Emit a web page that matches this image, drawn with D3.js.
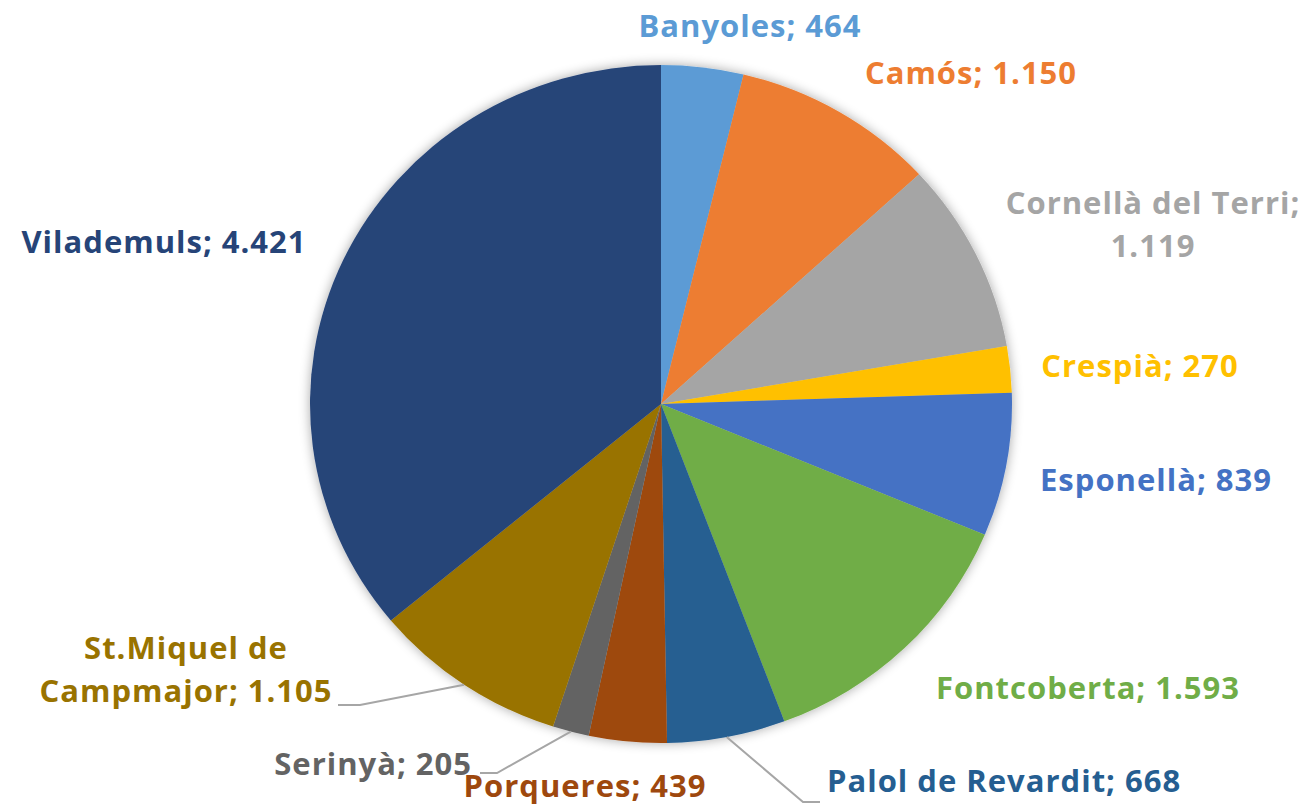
<!DOCTYPE html>
<html>
<head>
<meta charset="utf-8">
<script src="https://cdn.jsdelivr.net/npm/d3@7"></script>
<style>
  body { margin: 0; background: #fff; }
  svg { display: block; }
  text { font-family: "Open Sans", "Liberation Sans", sans-serif; font-weight: bold; }
</style>
</head>
<body>
<div id="chart"></div>
<script>
// Chart data
var municipis = ["Banyoles", "Camós", "Cornellà del Terri", "Crespià", "Esponellà", "Fontcoberta",
                 "Palol de Revardit", "Porqueres", "Serinyà", "St.Miquel de Campmajor", "Vilademuls"];
var valors = [464, 1150, 1119, 270, 839, 1593, 668, 439, 205, 1105, 4421];
var etiquetes = ["464", "1.150", "1.119", "270", "839", "1.593", "668", "439", "205", "1.105", "4.421"];
var colors = ["#5B9BD5", "#ED7D31", "#A5A5A5", "#FFC000", "#4472C4", "#70AD47",
              "#255E91", "#9E480E", "#636363", "#997300", "#264478"];

// Label layout: text lines, anchor, x, baseline y of first line, optional leader elbow
var labelLayout = [
  { lines: ["Banyoles; 464"], anchor: "middle", x: 750, y: 37 },
  { lines: ["Camós; 1.150"], anchor: "middle", x: 971, y: 84 },
  { lines: ["Cornellà del Terri;", "1.119"], anchor: "middle", x: 1153, y: 214 },
  { lines: ["Crespià; 270"], anchor: "middle", x: 1140, y: 377 },
  { lines: ["Esponellà; 839"], anchor: "middle", x: 1156, y: 491 },
  { lines: ["Fontcoberta; 1.593"], anchor: "middle", x: 1088, y: 699 },
  { lines: ["Palol de Revardit; 668"], anchor: "start", x: 827, y: 792, leader: [[803, 802], [820, 802]] },
  { lines: ["Porqueres; 439"], anchor: "middle", x: 585, y: 797 },
  { lines: ["Serinyà; 205"], anchor: "end", x: 472, y: 775, leader: [[497, 773], [480, 773]] },
  { lines: ["St.Miquel de", "Campmajor; 1.105"], anchor: "middle", x: 186, y: 659, leader: [[360, 705], [338, 705]] },
  { lines: ["Vilademuls; 4.421"], anchor: "middle", x: 164, y: 253 }
];

var width = 1303;
var height = 805;
var cx = 661, cy = 404;
var rx = 351, ry = 339;

var svg = d3.select("#chart")
    .append("svg")
    .attr("width", width)
    .attr("height", height);

// soft shadow around the pie
var defs = svg.append("defs");
var filter = defs.append("filter")
    .attr("id", "shadow")
    .attr("x", "-20%").attr("y", "-20%")
    .attr("width", "140%").attr("height", "140%");
filter.append("feGaussianBlur").attr("in", "SourceAlpha").attr("stdDeviation", 6).attr("result", "blur");
filter.append("feComponentTransfer").attr("in", "blur").attr("result", "soft")
    .append("feFuncA").attr("type", "linear").attr("slope", 0.35);
var merge = filter.append("feMerge");
merge.append("feMergeNode").attr("in", "soft");
merge.append("feMergeNode").attr("in", "SourceGraphic");

var data = municipis.map(function(m, i) {
    return { name: m, value: valors[i], label: etiquetes[i], color: colors[i], layout: labelLayout[i] };
});

var pie = d3.pie()
    .value(function(d) { return d.value; })
    .sort(null);

var arcs = pie(data);

var arc = d3.arc()
    .innerRadius(0)
    .outerRadius(rx);

var pieG = svg.append("g")
    .attr("transform", "translate(" + cx + "," + cy + ") scale(1," + (ry / rx) + ")");

pieG.append("g")
    .attr("filter", "url(#shadow)")
    .selectAll("path")
    .data(arcs)
    .enter().append("path")
    .attr("d", arc)
    .attr("fill", function(d) { return d.data.color; });

// Leader lines: start on the pie edge at the slice's mid angle
function edgePoint(d) {
    var a = (d.startAngle + d.endAngle) / 2;
    return [cx + rx * Math.sin(a), cy - ry * Math.cos(a)];
}

svg.selectAll(".leader")
    .data(arcs.filter(function(d) { return d.data.layout.leader; }))
    .enter().append("polyline")
    .attr("class", "leader")
    .attr("points", function(d) {
        var pts = [edgePoint(d)].concat(d.data.layout.leader);
        return pts.map(function(p) { return p.join(","); }).join(" ");
    })
    .attr("fill", "none")
    .attr("stroke", "#A6A6A6")
    .attr("stroke-width", 2);

// Data labels
var labels = svg.selectAll(".label")
    .data(data)
    .enter().append("text")
    .attr("class", "label")
    .attr("x", function(d) { return d.layout.x; })
    .attr("y", function(d) { return d.layout.y; })
    .attr("text-anchor", function(d) { return d.layout.anchor; })
    .attr("fill", function(d) { return d.color; })
    .style("font-size", "31px")
    .style("letter-spacing", "1px");

labels.each(function(d) {
    var t = d3.select(this);
    d.layout.lines.forEach(function(line, i) {
        t.append("tspan")
            .attr("x", d.layout.x)
            .attr("dy", i === 0 ? 0 : 43)
            .text(line);
    });
});
</script>
</body>
</html>
